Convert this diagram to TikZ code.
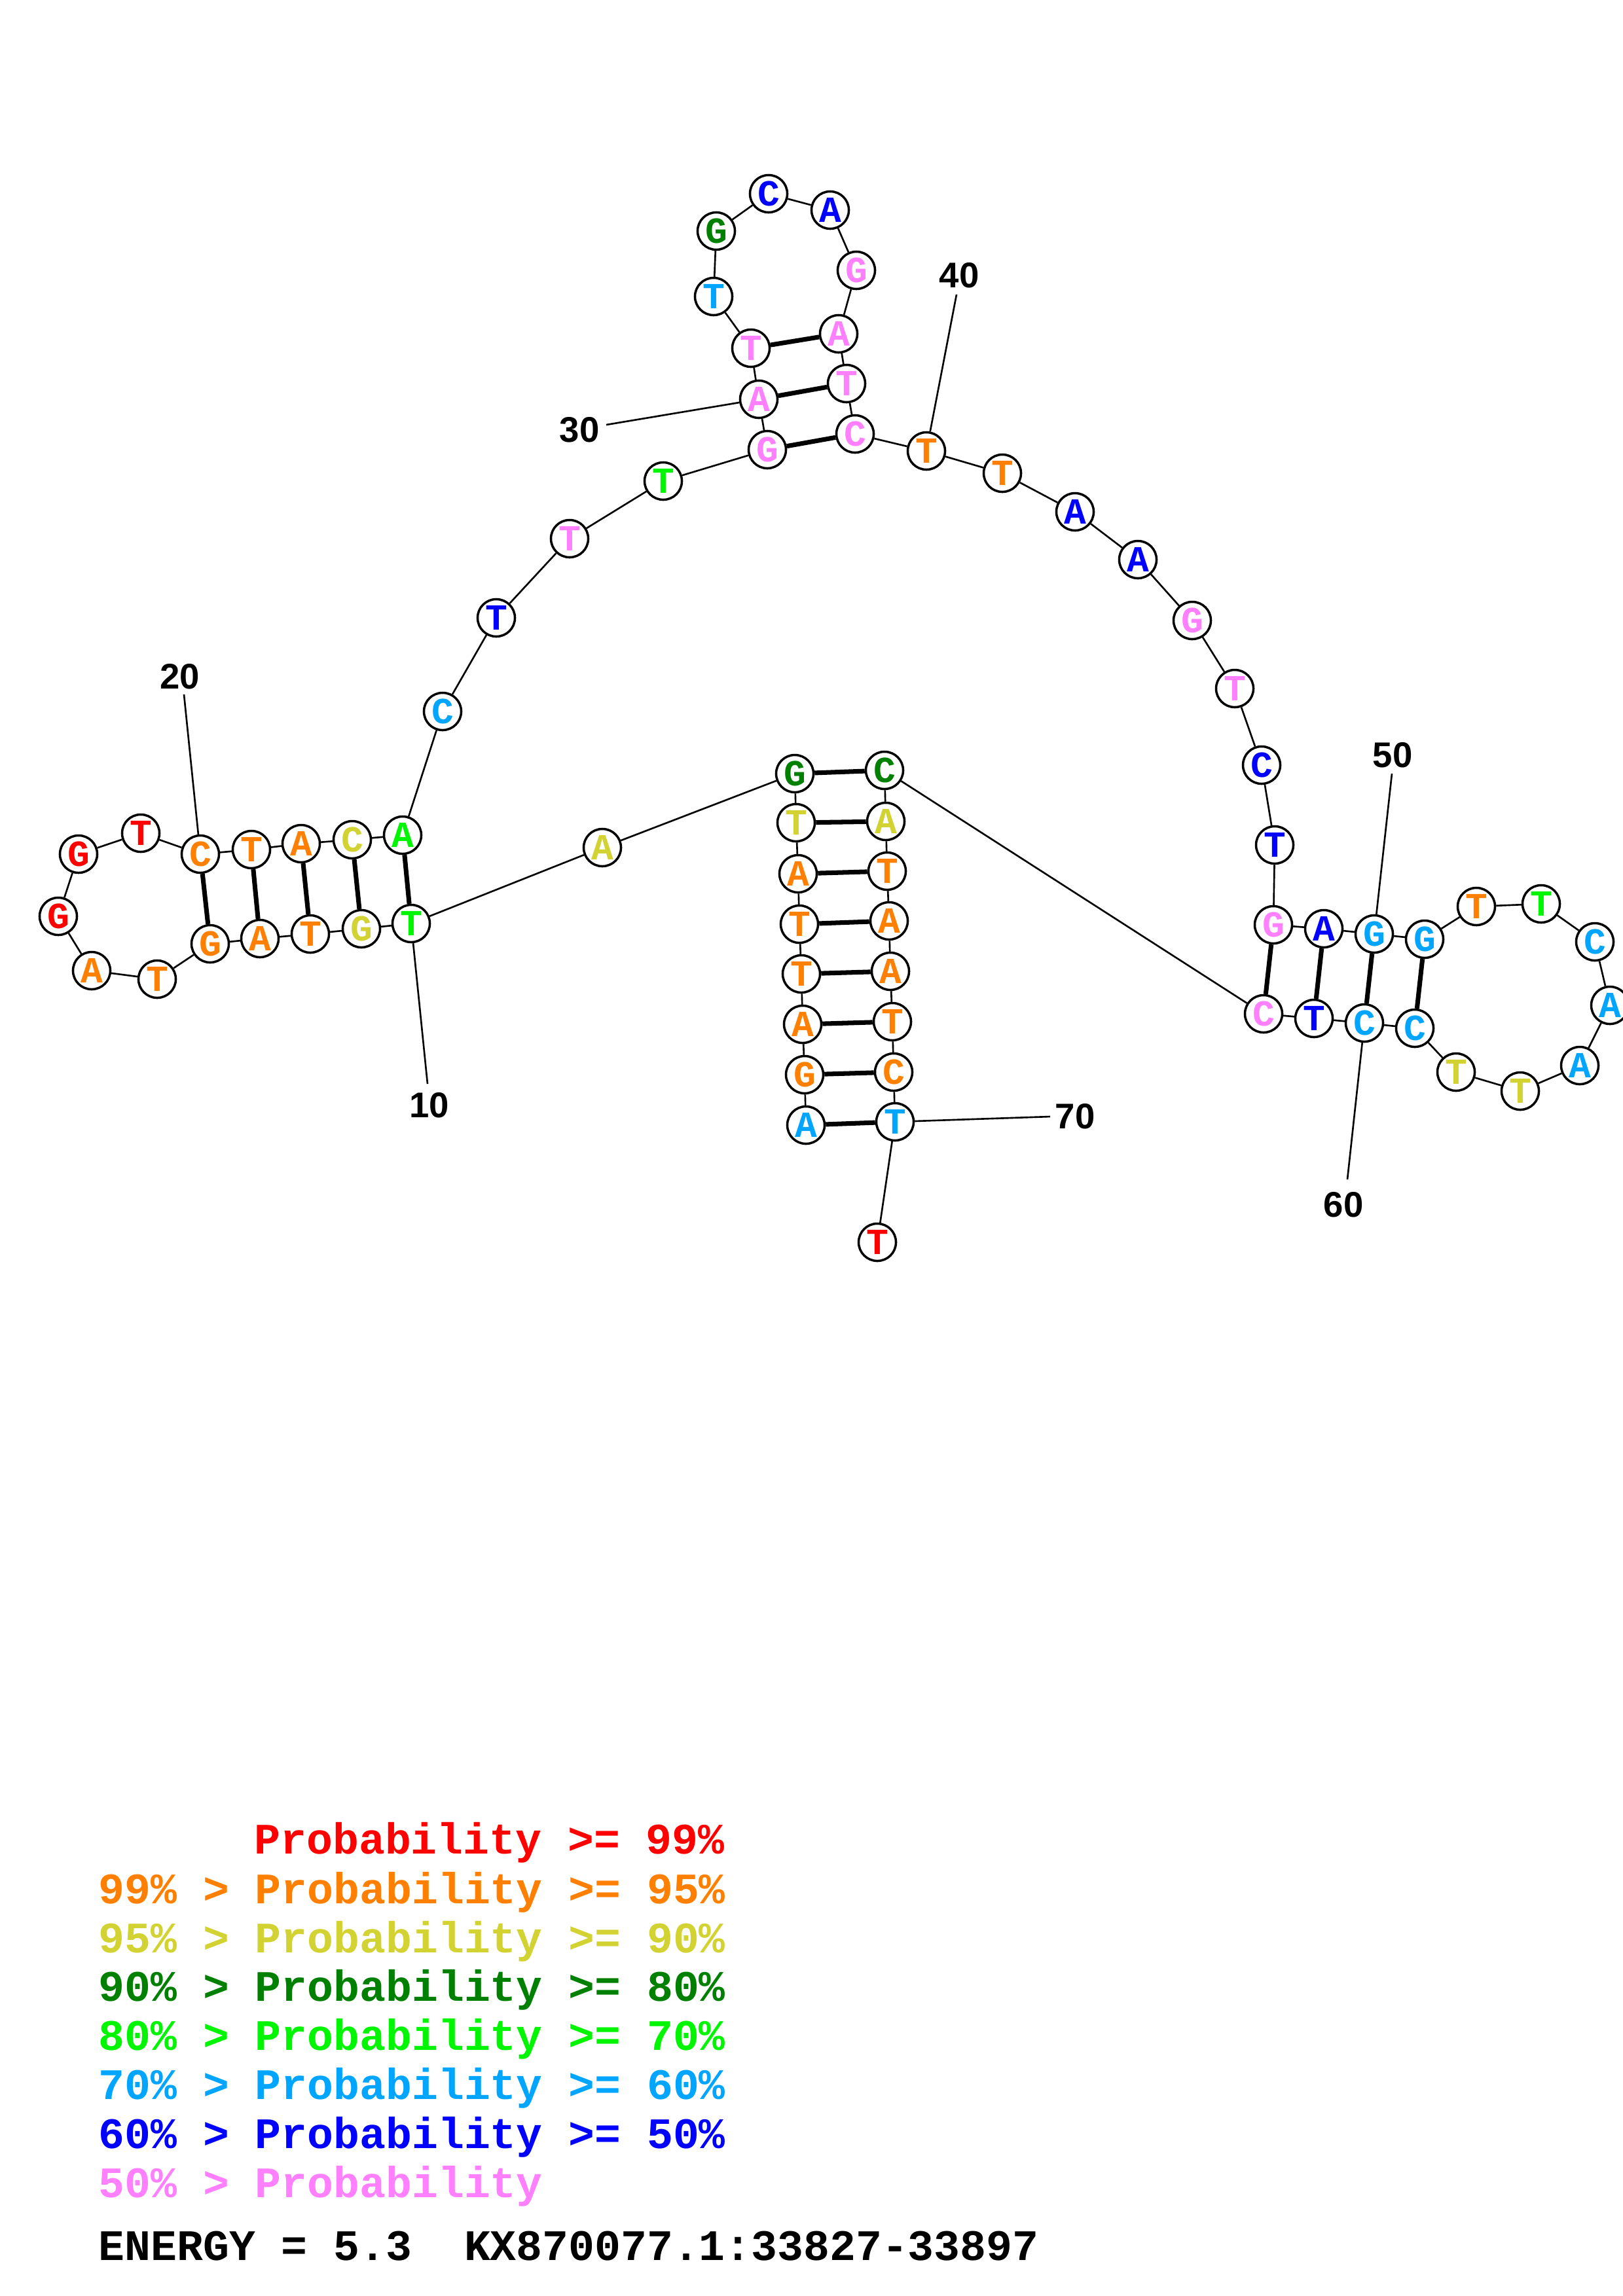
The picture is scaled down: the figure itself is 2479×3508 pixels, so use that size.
\documentclass[tikz,border=0pt]{standalone}
\usepackage{fontspec}
\newfontfamily\nucfont{Liberation Mono}
\newfontfamily\numfont{Liberation Sans}
\definecolor{cR}{RGB}{255,0,0}
\definecolor{cO}{RGB}{255,128,0}
\definecolor{cY}{RGB}{210,210,50}
\definecolor{cD}{RGB}{0,128,0}
\definecolor{cG}{RGB}{0,245,0}
\definecolor{cC}{RGB}{0,165,255}
\definecolor{cB}{RGB}{0,0,255}
\definecolor{cP}{RGB}{255,128,255}
\tikzset{
  nt/.style={circle, draw=black, line width=1pt, fill=white, minimum size=0.57cm, inner sep=0pt,
    font=\nucfont\bfseries\fontsize{16}{16}\selectfont},
  bb/.style={line width=0.75pt},
  bp/.style={line width=2pt},
  lbl/.style={font=\numfont\bfseries\fontsize{15.5}{15.5}\selectfont, inner sep=0pt},
  leg/.style={anchor=base west, inner sep=0pt, font=\nucfont\bfseries\fontsize{18.9}{18.9}\selectfont}
}
\begin{document}
\begin{tikzpicture}[x=0.01cm, y=-0.01cm]
\useasboundingbox (0,0) rectangle (2479,3508);
\foreach \i/\x/\y/\b/\c in {
1/1231/1719/A/cC, 2/1229/1642/G/cO, 3/1226/1565/A/cO, 4/1224/1488/T/cO, 5/1221/1412/T/cO,
6/1219/1335/A/cO, 7/1216/1257/T/cY, 8/1214/1182/G/cD, 9/920/1295/A/cY, 10/628/1411/T/cG,
11/552/1419/G/cY, 12/474/1427/T/cO, 13/397/1434/A/cO, 14/321/1442/G/cO, 15/240/1496/T/cO,
16/140/1483/A/cO, 17/89/1400/G/cR, 18/120/1305/G/cR, 19/215/1273/T/cR, 20/306/1305/C/cO,
21/384/1298/T/cO, 22/460/1289/A/cO, 23/538/1283/C/cY, 24/615/1276/A/cG, 25/676/1087/C/cC,
26/758/944/T/cB, 27/870/823/T/cP, 28/1013/735/T/cG, 29/1172/687/G/cP, 30/1159/610/A/cP,
31/1147/532/T/cP, 32/1090/453/T/cC, 33/1094/353/G/cD, 34/1174/296/C/cB, 35/1268/321/A/cB,
36/1308/413/G/cP, 37/1281/510/A/cP, 38/1293/586/T/cP, 39/1306/663/C/cP, 40/1415/689/T/cO,
41/1531/723/T/cO, 42/1642/782/A/cB, 43/1738/855/A/cB, 44/1821/948/G/cP, 45/1886/1052/T/cP,
46/1927/1169/C/cB, 47/1947/1291/T/cB, 48/1945/1413/G/cP, 49/2022/1419/A/cB, 50/2099/1427/G/cC,
51/2176/1435/G/cC, 52/2255/1385/T/cO, 53/2354/1381/T/cG, 54/2436/1439/C/cC, 55/2459/1536/A/cC,
56/2413/1628/A/cC, 57/2322/1667/T/cY, 58/2224/1638/T/cY, 59/2161/1571/C/cC, 60/2084/1563/C/cC,
61/2007/1556/T/cB, 62/1930/1549/C/cP, 63/1351/1177/C/cD, 64/1353/1255/A/cY, 65/1355/1331/T/cO,
66/1358/1407/A/cO, 67/1360/1484/A/cO, 68/1363/1561/T/cO, 69/1365/1638/C/cO, 70/1367/1714/T/cC,
71/1340/1898/T/cR}
  \node[nt, text=\c] (n\i) at (\x,\y) {\b};
% backbone
\foreach \i in {1,...,70}{\pgfmathtruncatemacro\j{\i+1}\draw[bb] (n\i) -- (n\j);}
% base pairs
\foreach \i in {1,...,8}{\pgfmathtruncatemacro\j{71-\i}\draw[bp] (n\i) -- (n\j);}
\foreach \i in {10,...,14}{\pgfmathtruncatemacro\j{34-\i}\draw[bp] (n\i) -- (n\j);}
\foreach \i in {29,30,31}{\pgfmathtruncatemacro\j{68-\i}\draw[bp] (n\i) -- (n\j);}
\foreach \i in {48,...,51}{\pgfmathtruncatemacro\j{110-\i}\draw[bp] (n\i) -- (n\j);}
% number labels
\coordinate (e10) at (653,1656);
\coordinate (e20) at (281,1061);
\coordinate (e30) at (926,649);
\coordinate (e40) at (1461,450);
\coordinate (e50) at (2126,1182);
\coordinate (e60) at (2058,1802);
\coordinate (e70) at (1604,1706);
\node[lbl] (l10) at (656,1689) {10};
\node[lbl] (l20) at (275,1034) {20};
\node[lbl] (l30) at (885,657) {30};
\node[lbl] (l40) at (1465,421) {40};
\node[lbl] (l50) at (2127,1154) {50};
\node[lbl] (l60) at (2052,1841) {60};
\node[lbl] (l70) at (1642,1706) {70};
\foreach \k in {10,20,30,40,50,60,70}\draw[bb] (n\k) -- (e\k);
% legend
\node[leg, text=cR] (g1) at (388,2832) {Probability >= 99\%};
\node[leg, text=cO] (g2) at (150,2908) {99\% > Probability >= 95\%};
\node[leg, text=cY] (g3) at (150,2983) {95\% > Probability >= 90\%};
\node[leg, text=cD] (g4) at (150,3057) {90\% > Probability >= 80\%};
\node[leg, text=cG] (g5) at (150,3132) {80\% > Probability >= 70\%};
\node[leg, text=cC] (g6) at (150,3207) {70\% > Probability >= 60\%};
\node[leg, text=cB] (g7) at (150,3282) {60\% > Probability >= 50\%};
\node[leg, text=cP] (g8) at (150,3357) {50\% > Probability};
\node[leg, text=black] (g9) at (150,3453) {ENERGY = 5.3\ \ KX870077.1:33827-33897};
\end{tikzpicture}
\end{document}
